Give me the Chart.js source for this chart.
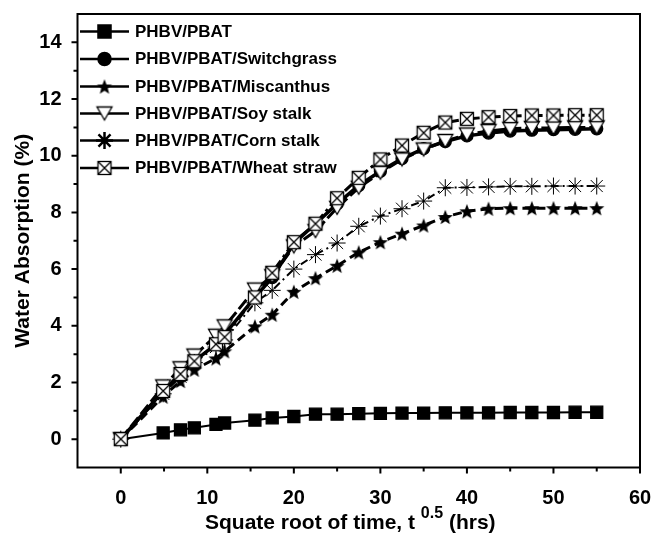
<!DOCTYPE html>
<html><head><meta charset="utf-8">
<script src="https://cdn.jsdelivr.net/npm/chart.js@4.4.0/dist/chart.umd.min.js"></script>
<style>html,body{margin:0;padding:0;background:#fff}#wrap{width:654px;height:537px;position:relative}</style>
</head><body><div id="wrap"><canvas id="c" width="654" height="537"></canvas></div>
<script>
// ---- data ----
const times = [0, 4.9, 6.9, 8.5, 11, 12, 15.5, 17.5, 20, 22.5, 25, 27.5, 30, 32.5, 35, 37.5, 40, 42.5, 45, 47.5, 50, 52.5, 55];
const pbat        = [0, 0.22, 0.33, 0.40, 0.52, 0.57, 0.67, 0.75, 0.80, 0.88, 0.88, 0.90, 0.91, 0.92, 0.92, 0.93, 0.93, 0.93, 0.94, 0.94, 0.94, 0.95, 0.95];
const switchgrass = [0, 1.70, 2.30, 2.75, 3.35, 3.70, 5.00, 5.70, 6.90, 7.60, 8.30, 8.95, 9.45, 9.90, 10.25, 10.50, 10.70, 10.80, 10.87, 10.90, 10.92, 10.93, 10.95];
const miscanthus  = [0, 1.50, 2.05, 2.45, 2.85, 3.10, 3.98, 4.39, 5.20, 5.68, 6.12, 6.59, 6.95, 7.25, 7.54, 7.84, 8.04, 8.13, 8.15, 8.15, 8.15, 8.15, 8.15];
const soyStalk    = [0, 1.86, 2.50, 2.95, 3.65, 3.98, 5.28, 5.75, 6.80, 7.34, 8.16, 8.87, 9.40, 9.87, 10.22, 10.52, 10.75, 10.87, 10.95, 10.98, 10.98, 11.00, 11.00];
const cornStalk   = [0, 1.60, 2.20, 2.70, 3.25, 3.50, 4.81, 5.25, 6.00, 6.51, 6.92, 7.51, 7.87, 8.13, 8.40, 8.87, 8.88, 8.90, 8.92, 8.92, 8.93, 8.93, 8.93];
const wheatStraw  = [0, 1.70, 2.30, 2.75, 3.35, 3.60, 5.00, 5.87, 6.95, 7.60, 8.50, 9.22, 9.87, 10.36, 10.81, 11.17, 11.30, 11.36, 11.40, 11.42, 11.42, 11.43, 11.43];
const seriesNames = ['PHBV/PBAT', 'PHBV/PBAT/Switchgrass', 'PHBV/PBAT/Miscanthus', 'PHBV/PBAT/Soy stalk', 'PHBV/PBAT/Corn stalk', 'PHBV/PBAT/Wheat straw'];
const xTickValues = [0, 10, 20, 30, 40, 50, 60];
const yTickValues = [0, 2, 4, 6, 8, 10, 12, 14];
const yAxisTitle = 'Water Absorption (%)';
const xAxisTitleMain = 'Squate root of time, t';
const xAxisTitleSup = '0.5';
const xAxisTitleEnd = '(hrs)';

const FONT = '"Liberation Sans", Arial, sans-serif';

// ---- marker images ----
function markerCanvas(kind) {
  const s = 20, m = s / 2;
  const c = document.createElement('canvas'); c.width = s; c.height = s;
  const g = c.getContext('2d');
  g.strokeStyle = '#000'; g.fillStyle = '#000'; g.lineWidth = 1.3; g.lineJoin = 'miter';
  if (kind === 'star') {
    const R = 8, r = 3.4;
    g.beginPath();
    for (let i = 0; i < 10; i++) {
      const ang = -Math.PI / 2 + i * Math.PI / 5;
      const rad = i % 2 === 0 ? R : r;
      const px = m + Math.cos(ang) * rad, py = m + 0.8 + Math.sin(ang) * rad;
      if (i === 0) g.moveTo(px, py); else g.lineTo(px, py);
    }
    g.closePath(); g.fill();
  } else if (kind === 'tri') {
    g.beginPath();
    g.moveTo(m - 7.5, m - 6.5); g.lineTo(m + 7.5, m - 6.5); g.lineTo(m, m + 6.5); g.closePath();
    g.fillStyle = '#fff'; g.fill(); g.stroke();
  } else if (kind === 'boxx') {
    const h = 6.5;
    g.fillStyle = '#fff'; g.fillRect(m - h, m - h, 2 * h, 2 * h);
    g.strokeRect(m - h, m - h, 2 * h, 2 * h);
    g.beginPath(); g.moveTo(m - h, m - h); g.lineTo(m + h, m + h); g.moveTo(m + h, m - h); g.lineTo(m - h, m + h); g.stroke();
  }
  return c;
}
const starImg = markerCanvas('star');
const triImg = markerCanvas('tri');
const boxImg = markerCanvas('boxx');

const valuesList = [pbat, switchgrass, miscanthus, soyStalk, cornStalk, wheatStraw];
const styles = [
  {pointStyle: 'rect', pointRadius: 8.5, borderWidth: 2, borderDash: [], pbw: 1.3},
  {pointStyle: 'circle', pointRadius: 6, borderWidth: 3.5, borderDash: [], pbw: 1.3},
  {pointStyle: starImg, pointRadius: 8, borderWidth: 3, borderDash: [9, 5], pbw: 1.3},
  {pointStyle: triImg, pointRadius: 8, borderWidth: 3, borderDash: [12, 4], pbw: 1.3},
  {pointStyle: 'star', pointRadius: 8.5, borderWidth: 2, borderDash: [8, 4, 2, 4], pbw: 1},
  {pointStyle: boxImg, pointRadius: 8, borderWidth: 3, borderDash: [10, 4, 3, 4], pbw: 1.3}
];

const datasets = seriesNames.map((name, i) => ({
  label: name,
  data: times.map((t, k) => ({x: t, y: valuesList[i][k]})),
  showLine: true,
  tension: 0,
  borderColor: '#000',
  backgroundColor: '#000',
  pointBackgroundColor: '#000',
  pointBorderColor: '#000',
  pointBorderWidth: styles[i].pbw,
  pointStyle: styles[i].pointStyle,
  pointRadius: styles[i].pointRadius,
  borderWidth: styles[i].borderWidth,
  borderDash: styles[i].borderDash,
  order: 6 - i,
  clip: false
}));

const framePlugin = {
  id: 'frame',
  afterDraw(chart) {
    const ctx = chart.ctx, a = chart.chartArea;
    const xs = chart.scales.x, ys = chart.scales.y;
    ctx.save();
    ctx.setLineDash([]);
    ctx.strokeStyle = '#000'; ctx.lineWidth = 2;
    ctx.beginPath();
    ctx.moveTo(a.left, a.top); ctx.lineTo(a.right, a.top); ctx.lineTo(a.right, a.bottom); ctx.lineTo(a.left, a.bottom); ctx.closePath();
    ctx.stroke();
    ctx.beginPath();
    for (let v = 0; v <= 55; v += 5) {
      const px = xs.getPixelForValue(v);
      const len = v % 10 === 0 ? 6 : 4;
      ctx.moveTo(px, a.bottom); ctx.lineTo(px, a.bottom + len);
    }
    ctx.moveTo(xs.getPixelForValue(60), a.bottom); ctx.lineTo(xs.getPixelForValue(60), a.bottom + 6);
    for (let v = 0; v <= 14; v += 1) {
      const py = ys.getPixelForValue(v);
      const len = v % 2 === 0 ? 6 : 4;
      ctx.moveTo(a.left, py); ctx.lineTo(a.left - len, py);
    }
    ctx.stroke();

    // x axis title with superscript
    ctx.fillStyle = '#000';
    ctx.textBaseline = 'alphabetic'; ctx.textAlign = 'left';
    ctx.font = 'bold 21px ' + FONT;
    let x = 205; const base = 529;
    ctx.fillText(xAxisTitleMain, x, base);
    x += ctx.measureText(xAxisTitleMain + ' ').width;
    ctx.font = 'bold 16px ' + FONT;
    ctx.fillText(xAxisTitleSup, x, base - 11);
    x += ctx.measureText(xAxisTitleSup).width;
    ctx.font = 'bold 21px ' + FONT;
    x += ctx.measureText(' ').width;
    ctx.fillText(xAxisTitleEnd, x, base);

    // legend
    const rows = [31.5, 59, 86.5, 113.5, 140.5, 168];
    ctx.font = 'bold 17px ' + FONT;
    ctx.textBaseline = 'middle';
    chart.data.datasets.forEach((ds, i) => {
      const y = rows[i];
      ctx.beginPath(); ctx.setLineDash([]); ctx.lineWidth = 2.5;
      ctx.moveTo(80, y); ctx.lineTo(129, y); ctx.stroke();
      Chart.helpers.drawPoint(ctx, {pointStyle: ds.pointStyle, radius: ds.pointRadius, rotation: 0, borderWidth: ds.pointBorderWidth}, 104.5, y);
      ctx.fillText(ds.label, 135, y + 0.5);
    });
    ctx.restore();
  }
};

new Chart(document.getElementById('c').getContext('2d'), {
  type: 'scatter',
  data: {datasets},
  options: {
    responsive: false,
    animation: false,
    devicePixelRatio: 1,
    layout: {padding: {top: 14, right: 14, left: 0, bottom: 0}},
    plugins: {legend: {display: false}, tooltip: {enabled: false}},
    scales: {
      x: {
        type: 'linear', min: -5, max: 60,
        afterBuildTicks: s => { s.ticks = xTickValues.map(v => ({value: v})); },
        ticks: {color: '#000', font: {family: FONT, size: 20, weight: 'bold'}, padding: 11, maxRotation: 0, autoSkip: false},
        grid: {display: false},
        border: {display: false},
        afterFit: s => { s.height = 69.5; s.paddingLeft = 0; s.paddingRight = 0; }
      },
      y: {
        type: 'linear', min: -1, max: 15,
        afterBuildTicks: s => { s.ticks = yTickValues.map(v => ({value: v})); },
        ticks: {color: '#000', font: {family: FONT, size: 20, weight: 'bold'}, padding: 8, autoSkip: false},
        grid: {display: false},
        border: {display: false},
        title: {display: true, text: yAxisTitle, color: '#000', font: {family: FONT, size: 21, weight: 'bold'}, padding: {top: 11, bottom: 0}},
        afterFit: s => { s.width = 77.5; s.paddingTop = 0; s.paddingBottom = 0; }
      }
    }
  },
  plugins: [framePlugin]
});
</script>
</body></html>
